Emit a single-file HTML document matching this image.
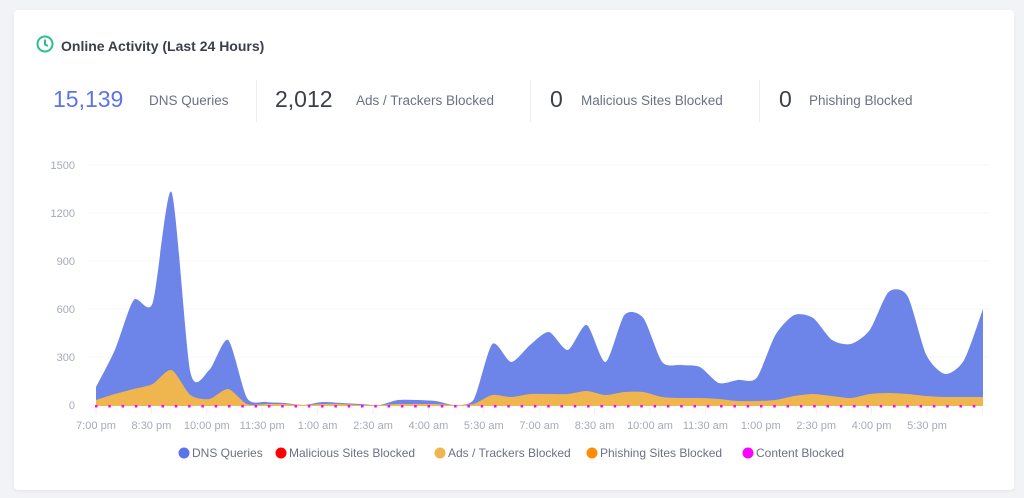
<!DOCTYPE html>
<html><head><meta charset="utf-8"><style>
body{margin:0;width:1024px;height:498px;background:#f2f3f7;font-family:"Liberation Sans",sans-serif;overflow:hidden;position:relative}
.card{position:absolute;left:14px;top:10px;width:1000px;height:480px;background:#fff;border-radius:4px;box-shadow:0 1px 3px rgba(0,0,0,.06)}
.title{position:absolute;left:61px;top:38px;font-size:14px;font-weight:bold;color:#3b3f4a}
.num{position:absolute;top:0;font-size:23px;color:#3b3f4a;white-space:nowrap}
.lab{position:absolute;top:7px;font-size:13.5px;color:#6b7184;white-space:nowrap}
.sep{position:absolute;top:80px;width:1px;height:42px;background:#eef0f4}
</style></head><body>
<div class="card"></div>
<svg style="position:absolute;left:36px;top:35px" width="18" height="18"><circle cx="9" cy="9" r="7.5" fill="none" stroke="#2dbd8e" stroke-width="2"/><path d="M9 4.5V9.5L12 11" fill="none" stroke="#2dbd8e" stroke-width="2"/></svg>
<div class="title">Online Activity (Last 24 Hours)</div>
<div class="num" style="left:53px;top:86px;color:#5b74e8">15,139</div><div class="lab" style="left:149px;top:93px">DNS Queries</div>
<div class="sep" style="left:256px"></div>
<div class="num" style="left:275px;top:86px">2,012</div><div class="lab" style="left:356px;top:93px">Ads / Trackers Blocked</div>
<div class="sep" style="left:530px"></div>
<div class="num" style="left:550px;top:86px">0</div><div class="lab" style="left:581px;top:93px">Malicious Sites Blocked</div>
<div class="sep" style="left:759px"></div>
<div class="num" style="left:779px;top:86px">0</div><div class="lab" style="left:809px;top:93px">Phishing Blocked</div>
<svg id="c" style="position:absolute;left:0;top:0" width="1024" height="498" font-family="Liberation Sans, sans-serif"></svg>
<script>
var s=document.getElementById('c'),h='';
var yl=[[1500,165],[1200,213],[900,261],[600,309],[300,357],[0,405]];
yl.forEach(function(a){h+='<line x1="88" x2="990" y1="'+a[1]+'" y2="'+a[1]+'" stroke="#f6f7f9"/>';h+='<text x="75" y="'+(a[1]+4)+'" text-anchor="end" font-size="11" fill="#a5aab8">'+a[0]+'</text>';});
var d=[387,350,300,303,192,372,370,340,398,402,403,405,402,403,404,405,400,400,401,405,400,344,362,345,332,350,325,362,315,318,362,365,367,383,380,378,335,315,318,340,344,330,292,296,355,374,360,309];
var o=[400,394,389,384,370,395,399,389,404,404,404,405,404,404,405,405,404,404,404,405,404,395,397,394,394,394,391,395,392,392,397,398,398,399,401,401,400,396,394,396,398,394,393,394,396,397,397,397];
function path(v){var n=v.length,dx=887/(n-1),p=[];for(var i=0;i<n;i++)p.push([96+dx*i,v[i]]);
var r='M96,406L'+p[0][0]+','+p[0][1];for(var i=0;i<n-1;i++){var p0=p[Math.max(i-1,0)],p1=p[i],p2=p[i+1],p3=p[Math.min(i+2,n-1)];
var k=8;var c1x=p1[0]+(p2[0]-p0[0])/k,c1y=p1[1]+(p2[1]-p0[1])/k,c2x=p2[0]-(p3[0]-p1[0])/k,c2y=p2[1]-(p3[1]-p1[1])/k;
r+='C'+c1x+','+Math.min(c1y,406)+' '+c2x+','+Math.min(c2y,406)+' '+p2[0]+','+p2[1];}
return r+'L983,406Z';}
h+='<path d="'+path(d)+'" fill="#6d84e8"/>';
h+='<path d="'+path(o)+'" fill="#efb54e"/>';
for(var x=96;x<=984;x+=13.3)h+='<rect x="'+(x-1)+'" y="405" width="2.5" height="2.5" fill="#f0f"/>';
var lb=['7:00 pm','8:30 pm','10:00 pm','11:30 pm','1:00 am','2:30 am','4:00 am','5:30 am','7:00 am','8:30 am','10:00 am','11:30 am','1:00 pm','2:30 pm','4:00 pm','5:30 pm'];
for(var i=0;i<=16;i++){var x=96+i*55.4;h+='<line x1="'+x+'" x2="'+x+'" y1="408" y2="414" stroke="#eceef2"/>';if(i<16)h+='<text x="'+x+'" y="429" text-anchor="middle" font-size="11" fill="#a5aab8">'+lb[i]+'</text>';}
var lg=[['#5b74e8','DNS Queries',179],['#f00','Malicious Sites Blocked',276],['#efb54e','Ads / Trackers Blocked',435],['#ff8c00','Phishing Sites Blocked',587],['#f0f','Content Blocked',743]];
lg.forEach(function(a){h+='<circle cx="'+(a[2]+5)+'" cy="453" r="5.5" fill="'+a[0]+'"/><text x="'+(a[2]+13)+'" y="457" font-size="12" fill="#6b7184">'+a[1]+'</text>';});
s.innerHTML=h;
</script>
</body></html>
